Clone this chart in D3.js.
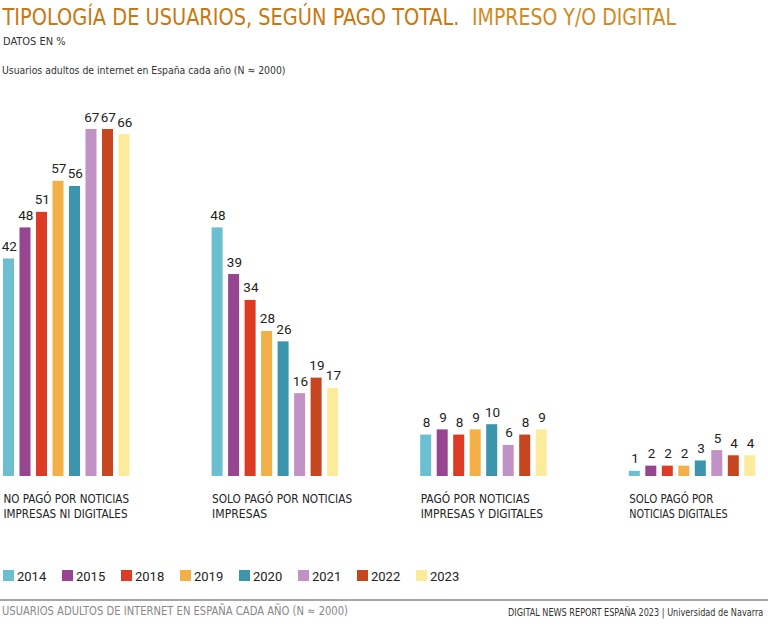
<!DOCTYPE html>
<html>
<head>
<meta charset="utf-8">
<script src="https://cdn.jsdelivr.net/npm/d3@7/dist/d3.min.js"></script>
<style>
  html, body { margin: 0; padding: 0; background: #fff; }
  svg { display: block; }
</style>
</head>
<body>
<svg id="chart" width="768" height="630"></svg>
<script>
const categories = [
  ["NO PAGÓ POR NOTICIAS", "IMPRESAS NI DIGITALES"],
  ["SOLO PAGÓ POR NOTICIAS", "IMPRESAS"],
  ["PAGÓ POR NOTICIAS", "IMPRESAS Y DIGITALES"],
  ["SOLO PAGÓ POR", "NOTICIAS DIGITALES"]
];
const years = ["2014", "2015", "2018", "2019", "2020", "2021", "2022", "2023"];
const colors = ["#6cbfd1", "#96468f", "#de3b26", "#f3b046", "#3a95ad", "#c092c5", "#c6471f", "#fdeb9c"];
const noPago = [42, 48, 51, 57, 56, 67, 67, 66];
const soloImpresas = [48, 39, 34, 28, 26, 16, 19, 17];
const ambas = [8, 9, 8, 9, 10, 6, 8, 9];
const soloDigitales = [1, 2, 2, 2, 3, 5, 4, 4];
const series = [noPago, soloImpresas, ambas, soloDigitales];

const svg = d3.select("#chart");
const condensed = "'Liberation Sans Narrow', 'DejaVu Sans Condensed', 'Open Sans', sans-serif";

// Title
const title = svg.append("g");
title.append("text").attr("x", 2.5).attr("y", 25)
  .attr("font-family", condensed).attr("font-size", 22.5)
  .attr("fill", "#c7780f")
  .attr("textLength", 457).attr("lengthAdjust", "spacingAndGlyphs")
  .text("TIPOLOGÍA DE USUARIOS, SEGÚN PAGO TOTAL.");
title.append("text").attr("x", 472).attr("y", 25)
  .attr("font-family", condensed).attr("font-size", 22.5)
  .attr("fill", "#d08a22")
  .attr("textLength", 204).attr("lengthAdjust", "spacingAndGlyphs")
  .text("IMPRESO Y/O DIGITAL");

svg.append("text").attr("x", 3).attr("y", 45)
  .attr("font-family", condensed).attr("font-size", 10.5).attr("fill", "#333")
  .attr("textLength", 62.5).attr("lengthAdjust", "spacingAndGlyphs")
  .text("DATOS EN %");

svg.append("text").attr("x", 2).attr("y", 74)
  .attr("font-family", condensed).attr("font-size", 11).attr("fill", "#333")
  .attr("textLength", 283.5).attr("lengthAdjust", "spacingAndGlyphs")
  .text("Usuarios adultos de internet en España cada año (N ≈ 2000)");

// Scales
const x0 = d3.scaleBand().domain(d3.range(categories.length)).range([3, 3 + 4 * 208.6]).padding(0);
const x1 = d3.scaleBand().domain(years).range([0, 126.5]).paddingInner(1 / 3).paddingOuter(0);
const y = d3.scaleLinear().domain([0, 67]).range([476, 129]);
const color = d3.scaleOrdinal().domain(years).range(colors);

const groups = svg.append("g").selectAll("g")
  .data(series).join("g")
  .attr("transform", (d, i) => `translate(${x0(i)},0)`);

groups.selectAll("rect")
  .data(d => d.map((v, j) => ({ year: years[j], v })))
  .join("rect")
  .attr("x", d => x1(d.year))
  .attr("y", d => y(d.v))
  .attr("width", x1.bandwidth())
  .attr("height", d => y(0) - y(d.v))
  .attr("fill", d => color(d.year));

groups.selectAll("text.val")
  .data(d => d.map((v, j) => ({ year: years[j], v })))
  .join("text")
  .attr("class", "val")
  .attr("x", d => x1(d.year) + x1.bandwidth() / 2 + 0.8)
  .attr("y", d => y(d.v) - 7.5)
  .attr("text-anchor", "middle")
  .attr("font-family", "Roboto, sans-serif")
  .attr("font-size", 13.5)
  .attr("fill", "#222")
  .text(d => d.v);

// Category labels
const labelWidths = [[125.5, 124], [140, 55], [109, 122.3], [84, 98.3]];
const catLabels = svg.append("g").selectAll("g")
  .data(categories).join("g")
  .attr("transform", (d, i) => `translate(${x0(i) + 0.5},0)`);
catLabels.selectAll("text")
  .data((d, i) => d.map((t, k) => ({ t, k, w: labelWidths[i][k] })))
  .join("text")
  .attr("x", 0)
  .attr("y", d => 502.5 + d.k * 15)
  .attr("font-family", condensed)
  .attr("font-size", 12)
  .attr("fill", "#222")
  .attr("textLength", d => d.w)
  .attr("lengthAdjust", "spacingAndGlyphs")
  .text(d => d.t);

// Legend
const legend = svg.append("g").selectAll("g")
  .data(years).join("g")
  .attr("transform", (d, i) => `translate(${3 + i * 59},570)`);
legend.append("rect").attr("width", 11).attr("height", 11).attr("fill", d => color(d));
legend.append("text").attr("x", 14).attr("y", 11)
  .attr("font-family", "Roboto, sans-serif").attr("font-size", 13).attr("fill", "#222")
  .text(d => d);

// Footer
svg.append("line").attr("x1", 0).attr("x2", 768).attr("y1", 600).attr("y2", 600)
  .attr("stroke", "#888").attr("stroke-width", 1.5);
svg.append("text").attr("x", 2).attr("y", 615)
  .attr("font-family", condensed).attr("font-size", 11.5).attr("fill", "#888")
  .attr("textLength", 346).attr("lengthAdjust", "spacingAndGlyphs")
  .text("USUARIOS ADULTOS DE INTERNET EN ESPAÑA CADA AÑO (N ≈ 2000)");
const credit = svg.append("text").attr("x", 0).attr("y", 0)
  .attr("font-family", condensed).attr("font-size", 10.5).attr("fill", "#333")
  .text("DIGITAL NEWS REPORT ESPAÑA 2023 | Universidad de Navarra");
const natural = credit.node().getComputedTextLength();
credit.attr("transform", `translate(508,615.5) scale(${255.5 / natural},1)`);
</script>
</body>
</html>
